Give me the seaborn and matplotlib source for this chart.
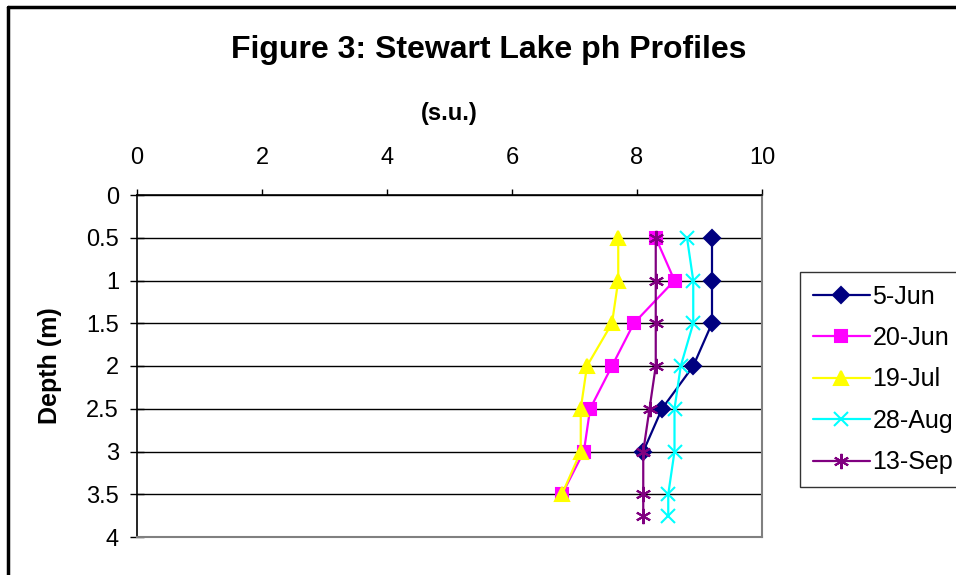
import pandas as pd
import seaborn as sns
import matplotlib.pyplot as plt
from matplotlib.lines import Line2D

# data
dates = ["5-Jun", "20-Jun", "19-Jul", "28-Aug", "13-Sep"]
depth_5jun = [0.5, 1.0, 1.5, 2.0, 2.5, 3.0]
ph_5jun = [9.2, 9.2, 9.2, 8.9, 8.4, 8.1]
depth_20jun = [0.5, 1.0, 1.5, 2.0, 2.5, 3.0, 3.5]
ph_20jun = [8.3, 8.6, 7.95, 7.6, 7.25, 7.15, 6.8]
depth_19jul = [0.5, 1.0, 1.5, 2.0, 2.5, 3.0, 3.5]
ph_19jul = [7.7, 7.7, 7.6, 7.2, 7.1, 7.1, 6.8]
depth_28aug = [0.5, 1.0, 1.5, 2.0, 2.5, 3.0, 3.5, 3.75]
ph_28aug = [8.8, 8.9, 8.9, 8.7, 8.6, 8.6, 8.5, 8.5]
depth_13sep = [0.5, 1.0, 1.5, 2.0, 2.5, 3.0, 3.5, 3.75]
ph_13sep = [8.3, 8.3, 8.3, 8.3, 8.2, 8.1, 8.1, 8.1]

x_ticks = [0, 2, 4, 6, 8, 10]
y_ticks = [0, 0.5, 1, 1.5, 2, 2.5, 3, 3.5, 4]

series = [
    (dates[0], depth_5jun, ph_5jun, "#000080", "D", 8),
    (dates[1], depth_20jun, ph_20jun, "#FF00FF", "s", 8),
    (dates[2], depth_19jul, ph_19jul, "#FFFF00", "^", 10),
    (dates[3], depth_28aug, ph_28aug, "#00FFFF", "x", 10),
    (dates[4], depth_13sep, ph_13sep, "#800080", (6, 2, 0), 11),
]

sns.set_style("white")
plt.rcParams["font.family"] = ["Liberation Sans", "DejaVu Sans"]
plt.rcParams["text.color"] = "black"
plt.rcParams["axes.labelcolor"] = "black"

fig = plt.figure(figsize=(9.56, 5.75), dpi=100)
ax = fig.add_axes([137 / 956, 1 - 537 / 575, 625 / 956, 342 / 575])

for name, d, p, col, mk, ms in series:
    df = pd.DataFrame({"depth": d, "ph": p})
    sns.lineplot(data=df, x="ph", y="depth", orient="y", ax=ax, color=col,
                 marker=mk, markersize=ms, markeredgecolor=col,
                 markeredgewidth=1.5, linewidth=1.6, label=name)

ax.set_xlim(0, 10)
ax.set_ylim(4, 0)
ax.set_xticks(x_ticks)
ax.set_yticks(y_ticks)
ax.set_yticklabels([f"{v:g}" for v in y_ticks])
ax.xaxis.tick_top()
ax.xaxis.set_label_position("top")
ax.tick_params(axis="x", direction="out", length=4.5, width=1, pad=14,
               labelsize=17, colors="black", bottom=False, top=True)
ax.tick_params(axis="y", direction="inout", length=10, width=1, pad=8,
               labelsize=17, colors="black", left=True)
ax.yaxis.grid(True, color="black", linewidth=1)
ax.xaxis.grid(False)

for s in ["top", "left"]:
    ax.spines[s].set_color("black")
    ax.spines[s].set_linewidth(1.2)
for s in ["right", "bottom"]:
    ax.spines[s].set_color("#808080")
    ax.spines[s].set_linewidth(1.5)

ax.set_xlabel("(s.u.)", fontsize=17, fontweight="bold")
ax.xaxis.set_label_coords(0.5, (537 - 120) / 342)
ax.set_ylabel("Depth (m)", fontsize=18, fontweight="bold")
ax.yaxis.set_label_coords(-0.12, 0.5)

fig.text(489 / 956, 1 - 50 / 575, "Figure 3: Stewart Lake ph Profiles",
         fontsize=23, fontweight="bold", ha="center", va="center")

leg = ax.legend(loc="upper left", bbox_to_anchor=(800 / 956, 1 - 272 / 575),
                bbox_transform=fig.transFigure, fontsize=18, frameon=True,
                fancybox=False, edgecolor="black", handlelength=2.3,
                handletextpad=0.1, labelspacing=0.7, borderpad=0.5,
                borderaxespad=0)
leg.get_frame().set_linewidth(1)

# outer chart border
fig.add_artist(Line2D([8 / 956, 8 / 956], [0, 1 - 7 / 575], color="black", linewidth=2.5))
fig.add_artist(Line2D([8 / 956, 1], [1 - 7 / 575, 1 - 7 / 575], color="black", linewidth=2.5))

fig.savefig("out.png", dpi=100)
